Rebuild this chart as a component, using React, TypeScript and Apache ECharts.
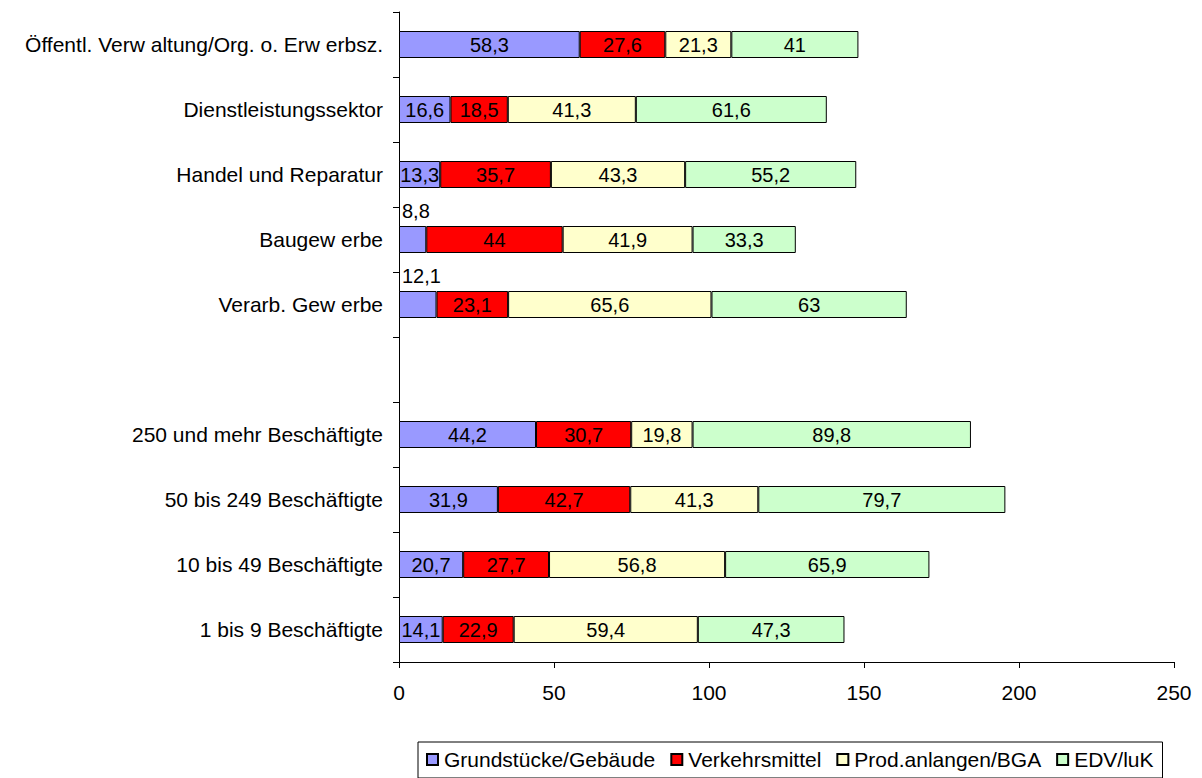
import React, { useEffect, useRef } from "react";
import * as echarts from "echarts";

const categories = [
  "1 bis 9 Beschäftigte",
  "10 bis 49 Beschäftigte",
  "50 bis 249 Beschäftigte",
  "250 und mehr Beschäftigte",
  "",
  "Verarb. Gew erbe",
  "Baugew erbe",
  "Handel und Reparatur",
  "Dienstleistungssektor",
  "Öffentl. Verw altung/Org. o. Erw erbsz.",
];
const grundstuecke = [14.1, 20.7, 31.9, 44.2, null, 12.1, 8.8, 13.3, 16.6, 58.3];
const verkehrsmittel = [22.9, 27.7, 42.7, 30.7, null, 23.1, 44, 35.7, 18.5, 27.6];
const prodAnlagen = [59.4, 56.8, 41.3, 19.8, null, 65.6, 41.9, 43.3, 41.3, 21.3];
const edv = [47.3, 65.9, 79.7, 89.8, null, 63, 33.3, 55.2, 61.6, 41];
const seriesNames = ["Grundstücke/Gebäude", "Verkehrsmittel", "Prod.anlangen/BGA", "EDV/luK"];
const colors = ["#9999FF", "#FF0000", "#FFFFCC", "#CCFFCC"];
const outsideLabelThreshold = 12.5;

const FONT = "'Liberation Sans', Arial, sans-serif";

const fmt = (v: number) => String(v).replace(".", ",");

export default function App() {
  const ref = useRef<HTMLDivElement>(null);
  useEffect(() => {
    const chart = echarts.init(ref.current!, null, { renderer: "svg" });
    const allData = [grundstuecke, verkehrsmittel, prodAnlagen, edv];
    const series = allData.map((arr, si) => ({
      name: seriesNames[si],
      type: "bar",
      stack: "total",
      barWidth: 27,
      itemStyle: { color: colors[si], borderColor: "#000", borderWidth: 1 },
      label: {
        show: true,
        position: "inside",
        color: "#000",
        fontSize: 20,
        fontFamily: FONT,
        formatter: (p: any) => (p.value == null || p.value === "-" ? "" : fmt(p.value)),
      },
      data: arr.map((v) => {
        if (v == null) return "-";
        if (si === 0 && v < outsideLabelThreshold) {
          return {
            value: v,
            label: { position: [3, -5], align: "left", verticalAlign: "bottom" },
          };
        }
        return v;
      }),
    }));
    chart.setOption({
      animation: false,
      textStyle: { fontFamily: FONT },
      grid: { left: 399, right: 28, top: 12, bottom: 116, containLabel: false },
      legend: {
        left: 418,
        top: 742,
        padding: [7, 9, 8, 8],
        itemGap: 15,
        itemWidth: 11,
        itemHeight: 11,
        borderColor: "#000",
        borderWidth: 1,
        textStyle: { fontSize: 21, color: "#000", fontFamily: FONT, padding: [0, 0, 0, 1] },
        data: seriesNames.map((n) => ({ name: n, icon: "rect" })),
      },
      xAxis: {
        type: "value",
        min: 0,
        max: 250,
        interval: 50,
        axisLine: { show: true, lineStyle: { color: "#000", width: 1 } },
        axisTick: { show: true, length: 6, lineStyle: { color: "#000" } },
        splitLine: { show: false },
        axisLabel: { color: "#000", fontSize: 21, fontFamily: FONT, margin: 20 },
      },
      yAxis: {
        type: "category",
        data: categories,
        axisLine: { show: true, lineStyle: { color: "#000", width: 1 } },
        axisTick: { show: true, length: 6, alignWithLabel: false, lineStyle: { color: "#000" } },
        axisLabel: { color: "#000", fontSize: 21, fontFamily: FONT, margin: 16 },
      },
      series,
    });
    return () => chart.dispose();
  }, []);
  return (
    <div
      ref={ref}
      style={{ position: "fixed", left: 0, top: 0, width: 1202, height: 778, background: "#fff" }}
    />
  );
}
